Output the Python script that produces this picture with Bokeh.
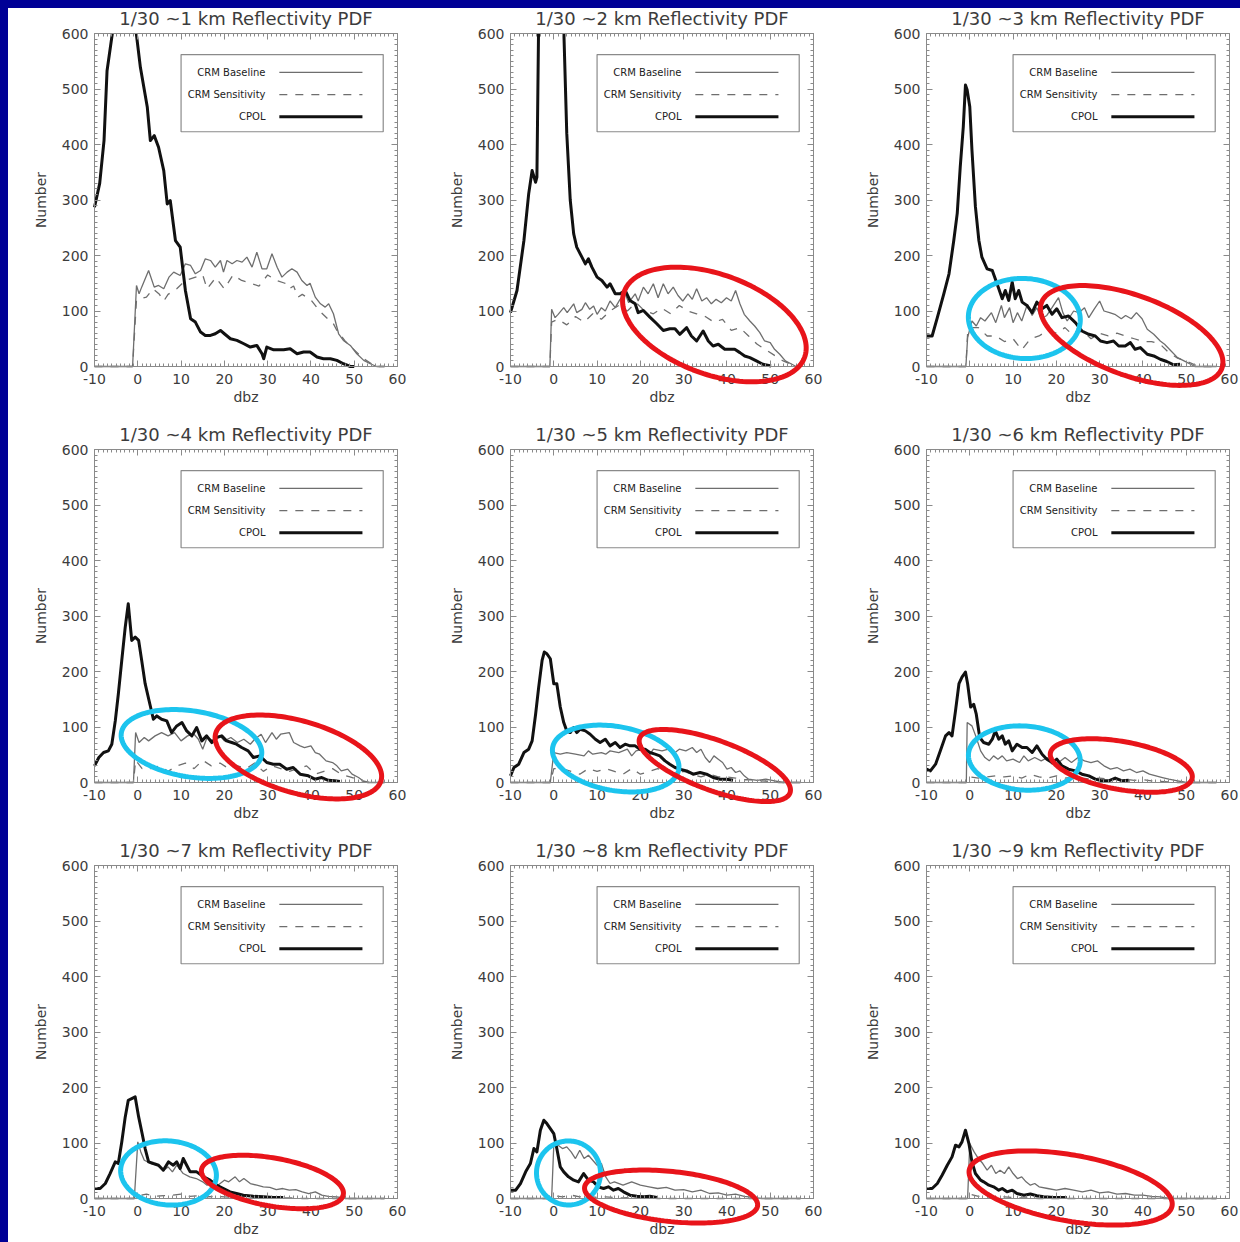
import numpy as np
from bokeh.plotting import figure
from bokeh.models import (Range1d, SingleIntervalTicker, LinearAxis, CustomJSTickFormatter,
                          Label, PolyAnnotation, Spacer, BoxAnnotation)
from bokeh.layouts import column, row
from bokeh.embed import file_html
from bokeh.resources import INLINE

# ---------------- data (dBZ, Number) ----------------
heights = ["1", "2", "3", "4", "5", "6", "7", "8", "9"]
series_names = ["CRM Baseline", "CRM Sensitivity", "CPOL"]
x_limits = (-10, 60)
y_limits = (0, 600)

km1_cpol = [(-10,287),(-8.8,330),(-7.8,407),(-7.1,533),(-5.7,610),(-4.5,700),(-3,760),(-1.5,700),(-0.5,610),(0.6,539),(2.2,467),(2.9,407),(3.8,416),(4.8,395),(6,353),(6.8,293),(7.5,299),(8.7,227),(9.8,215),(11,137),(12.2,86),(13.3,80),(14.5,62),(15.6,56),(16.8,56),(17.9,59),(19.1,65),(20,59),(21.4,50),(22.9,47),(24.5,41),(26,35),(27.5,38),(28.7,23),(29.1,14),(29.8,35),(31.4,30),(33.7,30),(35.2,32),(36.8,23),(38.3,26),(39.8,26),(41.4,17),(42.9,14),(44.5,14),(46,11),(47.5,5),(49.1,0),(50,0)]
km1_base = [(-10,0),(-1.2,0),(-0.3,146),(0.3,131),(0.9,143),(2.5,173),(3.8,143),(4.8,146),(6,140),(7.2,161),(8.3,170),(9.8,164),(11,185),(12.2,182),(13.3,167),(14.5,173),(15.6,194),(16.8,191),(17.9,179),(19.1,191),(19.8,170),(20.6,191),(21.8,185),(22.9,191),(24.1,188),(25.2,197),(26.4,179),(27.5,206),(28.7,176),(29.8,176),(31,203),(32.2,179),(33.3,161),(34.5,170),(35.6,176),(36.8,170),(37.9,155),(39.1,146),(39.8,150),(41,125),(42.2,113),(43.3,107),(44.1,113),(45.2,95),(46.4,59),(47.5,47),(49.1,38),(50.6,23),(52.2,11),(53.7,5),(55.2,0),(57,0)]
km1_sens = [(-10,0),(-1.2,0),(-0.3,120),(2,125),(3.5,140),(5,130),(6,118),(7,130),(9,140),(11,155),(13,160),(15,165),(16,140),(18,160),(20,140),(22,165),(24,155),(26,150),(28,145),(30,165),(32,155),(34,150),(35,140),(36,145),(37,125),(38,130),(40,120),(42,100),(44,85),(45,80),(46,65),(48,45),(50,30),(52,15),(54,5),(55,0),(57,0)]

km2_cpol = [(-10,97),(-8.5,137),(-6.9,227),(-5.8,311),(-5,353),(-4.2,332),(-3.9,341),(-3.5,620),(-2,800),(0,900),(1.5,750),(2.3,610),(3,420),(3.8,300),(4.6,239),(5.3,215),(6.5,197),(7.3,185),(8,194),(8.8,179),(10,161),(11.1,155),(12.3,143),(13,149),(14.2,131),(15.3,131),(16.5,137),(17.6,119),(18.8,113),(19.5,97),(20.7,101),(22.2,89),(23.8,77),(25.3,65),(26.8,68),(28,68),(29.1,58),(30.7,70),(31.8,55),(33,46),(34.5,64),(35.7,46),(36.8,37),(38,40),(39.5,31),(40.7,31),(41.8,31),(43,25),(44.1,19),(45.3,16),(46.8,10),(48.3,4),(50.2,1)]
km2_base = [(-10,0),(-0.9,0),(-0.5,103),(0.3,88),(1,94),(2.3,106),(3.1,97),(4.6,113),(5.3,97),(6.5,103),(7.3,115),(8.3,103),(9.2,109),(10,94),(11,106),(11.9,100),(13,118),(14.2,106),(15.3,121),(16.5,131),(17.3,115),(18.8,131),(19.5,118),(20.7,143),(21.8,131),(23,149),(24.1,124),(25.3,149),(26.4,131),(27.6,143),(28.7,128),(29.8,118),(31,131),(32,121),(33,140),(34.2,118),(35.3,124),(36.4,113),(37.5,121),(38.7,115),(39.9,124),(41,118),(42,137),(43,113),(44,94),(45.3,82),(46.4,73),(47.6,61),(48.7,46),(50,43),(51,31),(52.2,22),(53.5,10),(55,4),(56,0),(57,0)]
km2_sens = [(-10,0),(-0.9,0),(-0.5,80),(1,85),(3,75),(5,90),(7,80),(9,95),(11,85),(13,100),(15,110),(17,100),(19,115),(21,100),(23,95),(25,105),(27,95),(29,110),(31,100),(33,95),(35,90),(37,80),(39,85),(41,65),(43,70),(45,55),(47,40),(49,30),(51,20),(53,10),(55,3),(56,0),(57,0)]

km3_cpol = [(-10,55),(-8.7,55),(-7.5,88),(-6,131),(-4.8,167),(-3.7,227),(-2.9,276),(-2.2,360),(-1.5,432),(-1,507),(-0.6,498),(0,468),(0.5,390),(1.3,288),(2.1,227),(2.8,197),(4,176),(5.2,173),(6.3,149),(7.5,122),(8.2,137),(9,119),(9.8,152),(10.5,122),(11.3,137),(12.1,116),(13.2,110),(14.4,97),(15.5,116),(16.7,104),(17.8,110),(19,94),(20.1,104),(21.3,88),(22.8,91),(24.4,79),(25.9,64),(27.5,58),(29,55),(30.2,46),(31.7,43),(33.2,46),(34.4,37),(35.9,37),(37.1,43),(38.2,31),(39.4,34),(41,22),(42.5,19),(44,13),(45.5,9),(47.1,3),(48.6,4)]
km3_base = [(-10,0),(-0.9,0),(-0.5,52),(0.5,82),(1.5,73),(2.5,88),(3.5,82),(5,97),(6,79),(7.3,110),(8,88),(9.2,106),(10,79),(11,97),(12,82),(13.3,112),(14.4,92),(15.5,106),(16.5,86),(17.8,92),(19,106),(20.5,124),(21.5,97),(22.5,82),(24,100),(25.2,97),(26.5,106),(27.5,88),(28.7,103),(30,118),(31,100),(32.3,97),(33.5,94),(35,86),(36,92),(37.3,86),(38.5,97),(39.8,86),(41,67),(42.5,58),(44,46),(45,40),(46.5,28),(48,16),(49.5,10),(51,4),(52,0),(57,0)]
km3_sens = [(-10,0),(-0.9,0),(-0.5,60),(0,70),(2,70),(4,55),(6,55),(8,45),(10,50),(12,30),(14,50),(16,55),(18,65),(20,60),(22,70),(24,55),(26,65),(28,50),(30,60),(32,55),(34,60),(36,55),(38,50),(40,45),(42,45),(44,40),(46,25),(48,15),(50,10),(52,3),(53,0),(57,0)]

km4_cpol = [(-10,30),(-9,45),(-7.9,54),(-6.8,57),(-6,69),(-5.2,111),(-4.5,159),(-3.7,220),(-2.9,280),(-2.2,322),(-1.4,256),(-0.6,262),(0.2,256),(0.9,220),(1.7,178),(2.8,141),(3.6,114),(4.4,120),(5.5,114),(6.7,111),(7.8,90),(9,102),(10.2,108),(11.3,93),(12.5,84),(13.6,99),(14.8,75),(15.9,84),(17.1,72),(18.2,81),(19.4,84),(20.5,75),(21.7,72),(22.8,69),(24,63),(25.5,57),(26.7,45),(28.2,48),(29.8,36),(31.3,33),(32.8,33),(34.4,24),(35.9,27),(37.5,15),(39.4,12),(40.9,6),(42.5,9),(44,4),(45.5,3),(46.7,2)]
km4_base = [(-10,0),(-1,0),(-0.5,90),(0.3,72),(1.5,81),(2.5,75),(4,84),(5.5,90),(7,84),(8.5,90),(10,75),(11.5,84),(13,87),(14,78),(15,60),(16,81),(17.5,75),(19,84),(20,75),(21.5,81),(23,72),(24.5,78),(26,69),(27,78),(28.5,87),(29.5,72),(31,90),(32,78),(33,87),(35,90),(36,72),(37.5,66),(38.5,63),(40,66),(41,54),(42,51),(43.5,39),(45,36),(46,30),(47,21),(48.5,24),(49.5,15),(51,9),(52,3),(53.5,0),(57,0)]
km4_sens = [(-10,0),(-1,0),(-0.5,40),(1,25),(3,25),(5,30),(7,20),(9,30),(11,35),(13,25),(15,40),(17,30),(19,35),(21,25),(23,30),(25,25),(27,35),(29,20),(31,30),(33,25),(35,20),(37,25),(39,30),(41,15),(43,20),(45,25),(47,15),(49,10),(51,5),(53,0),(57,0)]

km5_cpol = [(-10,12),(-9.2,27),(-8.1,33),(-6.9,54),(-5.8,60),(-5,75),(-4.2,123),(-3.5,171),(-2.7,220),(-2.2,235),(-1.6,232),(-0.8,223),(0,178),(0.7,178),(1.5,136),(2.3,108),(3,93),(3.8,90),(4.6,99),(5.3,90),(6.1,96),(7.3,93),(8.4,87),(9.6,78),(10.7,72),(11.9,78),(13,66),(14.2,72),(15.3,63),(16.5,69),(17.6,66),(18.8,66),(19.9,60),(21.1,60),(22.2,54),(23.4,51),(24.5,48),(25.7,39),(26.8,33),(28,27),(29.1,24),(30.7,21),(32.2,15),(33.8,18),(35.3,15),(36.8,9),(38.4,6),(39.9,6),(41.4,4)]
km5_base = [(-10,0),(-0.8,0),(0,54),(1.5,51),(3,54),(5,51),(7,48),(8,57),(9,51),(11,54),(12,51),(13,57),(15,54),(17,60),(18,48),(19,57),(20.5,60),(22,48),(23,60),(25,57),(26.5,60),(27.5,51),(29,60),(30.5,57),(32,63),(33,54),(34,60),(35,45),(36,36),(37,48),(38,42),(39,36),(40,24),(41,27),(42,18),(43,21),(44,12),(45,6),(47,4),(49,6),(51,3),(53,0),(57,0)]
km5_sens = [(-10,0),(-0.8,0),(0,25),(2,25),(4,20),(6,15),(8,25),(10,20),(12,25),(14,20),(16,15),(18,25),(20,15),(22,20),(24,25),(26,20),(28,15),(30,20),(32,15),(34,10),(36,15),(38,10),(40,10),(42,8),(44,5),(46,5),(48,3),(50,2),(52,0),(57,0)]

km6_cpol = [(-10,24),(-9.1,21),(-7.9,33),(-6.8,57),(-5.6,84),(-4.8,90),(-4.1,84),(-3.3,129),(-2.5,178),(-1.8,190),(-1,199),(-0.5,178),(0.2,136),(0.9,141),(1.5,123),(2.3,81),(3.2,72),(4.4,69),(5.2,78),(5.9,93),(6.7,78),(7.5,84),(8.2,69),(9,75),(9.8,57),(10.9,69),(12.1,63),(13.2,63),(14.4,54),(15.5,66),(16.7,51),(17.8,42),(19,36),(20.1,42),(21.3,30),(22.8,24),(24.4,21),(25.9,15),(27.5,12),(29,6),(30.5,3),(32.1,3),(33.6,8),(35.2,3),(36.7,4)]
km6_base = [(-10,0),(-0.8,0),(-0.6,108),(0.5,102),(1.5,81),(2.5,57),(3.5,45),(4.5,39),(5.5,48),(6.5,42),(7.5,48),(8.5,39),(10,42),(11.5,36),(12.5,48),(13.5,39),(15,45),(16.5,39),(18,45),(19,33),(20.5,36),(22,45),(23.5,36),(25,45),(26.5,39),(28,36),(29.5,39),(31,30),(32.5,24),(34,27),(35.5,21),(37,24),(38.5,18),(40,21),(41.5,15),(43,12),(44.5,9),(46,6),(48,3),(50,0),(57,0)]
km6_sens = [(-10,0),(-0.8,0),(0,10),(2,8),(4,10),(6,12),(8,10),(10,12),(12,8),(14,15),(16,10),(18,8),(20,12),(22,8),(24,10),(26,8),(28,6),(30,8),(32,6),(34,5),(36,6),(38,4),(40,5),(42,3),(44,2),(46,1),(48,0),(57,0)]

km7_cpol = [(-10,18),(-8.7,18),(-7.5,27),(-6.4,45),(-5.2,66),(-4.5,63),(-3.7,102),(-2.9,147),(-2.2,177),(-1.4,180),(-0.6,183),(0.2,147),(1,117),(1.7,90),(2.5,66),(3.6,63),(4.8,60),(5.9,51),(7.1,66),(8.2,60),(9,66),(9.8,54),(10.5,72),(11.3,60),(12.1,48),(13.6,48),(15.2,39),(16.7,33),(18.2,24),(19.8,18),(21.3,12),(22.8,9),(24.4,6),(26.7,4),(29,3),(31.3,2),(33.6,2)]
km7_base = [(-10,0),(-0.8,0),(0,102),(0.7,84),(1.5,69),(3,63),(4.5,60),(6,51),(7,57),(8,48),(9,60),(10.5,45),(12,39),(13.5,36),(15,30),(16,24),(17,30),(18.5,24),(20,33),(21,30),(22.5,39),(23.5,30),(24.5,36),(26,27),(27.5,24),(29,21),(30.5,20),(32,16),(33.5,18),(35,15),(36.5,16),(38,12),(39.5,9),(41,12),(42.5,6),(44,4),(46,3),(48,0),(57,0)]
km7_sens = [(-10,0),(-0.8,0),(0,5),(2,8),(4,4),(6,5),(8,6),(10,8),(12,4),(14,5),(16,3),(18,4),(20,3),(22,2),(24,3),(26,2),(28,2),(30,1),(32,2),(34,1),(36,1),(38,0),(57,0)]

km8_cpol = [(-10,15),(-8.8,15),(-7.7,27),(-6.5,48),(-5.4,63),(-4.6,90),(-3.9,84),(-3.1,123),(-2.3,141),(-1.6,135),(-0.8,126),(0,117),(0.7,90),(1.5,57),(2.3,48),(3.4,39),(4.6,33),(5.7,30),(6.9,45),(8,33),(9.2,30),(10.3,21),(11.5,18),(12.6,21),(13.8,15),(14.9,18),(16.1,12),(17.6,6),(19.2,4),(20.7,3),(22.2,4),(23.8,2)]
km8_base = [(-10,0),(-0.5,0),(0,96),(1,96),(2,90),(3,93),(4,84),(5,72),(6,87),(7,72),(8,78),(9,69),(10,60),(11,63),(12,39),(13,27),(14,30),(16,24),(18,30),(20,24),(22,21),(24,18),(26,20),(28,15),(30,16),(32,12),(34,15),(36,9),(38,10),(40,6),(42,8),(44,4),(46,2),(48,0),(57,0)]
km8_sens = [(-10,0),(-0.5,0),(0,5),(2,3),(4,6),(6,3),(8,4),(10,2),(12,3),(14,2),(16,1),(18,2),(20,1),(22,1),(24,0),(57,0)]

km9_cpol = [(-10,18),(-8.7,18),(-7.5,27),(-6.4,42),(-5.2,60),(-4.1,75),(-3.3,96),(-2.5,93),(-1.8,102),(-1,123),(-0.2,99),(0.5,66),(1.3,45),(2.5,33),(3.2,30),(4.4,24),(5.5,21),(6.7,15),(7.5,18),(8.6,12),(9.8,15),(10.9,9),(12.5,6),(14,8),(15.5,5),(17.1,3),(19.4,2),(22.4,2)]
km9_base = [(-10,0),(-0.5,0),(0,99),(1,84),(2,72),(3,63),(4,51),(5,60),(6,45),(7,51),(8,45),(9,57),(10,45),(11,36),(12,39),(13,30),(14,24),(15,27),(16,21),(18,18),(20,15),(22,18),(24,15),(26,12),(28,15),(30,10),(32,12),(34,8),(36,9),(38,6),(40,6),(42,4),(44,3),(46,0),(57,0)]
km9_sens = [(-10,0),(-0.5,0),(0,8),(2,4),(4,3),(6,2),(8,3),(10,2),(12,1),(14,1),(16,0),(57,0)]

# highlight ellipses: (panel, colour, centre dBZ, centre Number, semi-major px, semi-minor px, tilt deg)
highlights = [
    (2, "red", 37.1, 75.7, 96, 50, 20),
    (3, "cyan", 12.6, 86.5, 56, 40, 3), (3, "red", 37.4, 55.9, 96, 40, 20),
    (4, "cyan", 12.4, 69.4, 71, 33, 9), (4, "red", 37.1, 46.0, 86, 36, 16),
    (5, "cyan", 14.3, 43.2, 64, 32, 10), (5, "red", 37.2, 30.6, 80, 25, 20),
    (6, "cyan", 12.6, 44.1, 56, 32, 4), (6, "red", 35.0, 30.6, 72, 24, 10),
    (7, "cyan", 7.1, 46.0, 48, 32, 5), (7, "red", 31.1, 29.7, 72, 24, 10),
    (8, "cyan", 3.4, 46.0, 32, 32, 0), (8, "red", 27.1, 3.6, 87, 25, 6),
    (9, "red", 23.3, 18.9, 103, 33, 10),
]

panels = [
    (km1_cpol, km1_base, km1_sens), (km2_cpol, km2_base, km2_sens), (km3_cpol, km3_base, km3_sens),
    (km4_cpol, km4_base, km4_sens), (km5_cpol, km5_base, km5_sens), (km6_cpol, km6_base, km6_sens),
    (km7_cpol, km7_base, km7_sens), (km8_cpol, km8_base, km8_sens), (km9_cpol, km9_base, km9_sens),
]

# ---------------- styling / geometry ----------------
FONT = "DejaVu Sans"
TXT = "#3c3c3c"
FRAME = "#8a8a8a"
NAVY = "#000096"
ELL_COL = {"red": "#e8141a", "cyan": "#1cc4ee"}
FW, FH = 303, 333          # plotting box size in px
LB, TB = 86, 25            # box offset inside each panel
PX_X = FW / float(x_limits[1] - x_limits[0])
PX_Y = FH / float(y_limits[1] - y_limits[0])


def xy(pairs):
    return [p[0] for p in pairs], [p[1] for p in pairs]


def clip_top(xs, ys, top):
    """Cut the polyline where it leaves the plotting box through its top edge."""
    ox, oy = [], []
    for i in range(len(xs)):
        if i > 0:
            x0, y0, x1, y1 = xs[i - 1], ys[i - 1], xs[i], ys[i]
            if (y0 > top) != (y1 > top):
                xc = x0 + (top - y0) * (x1 - x0) / (y1 - y0)
                ox.append(xc)
                oy.append(top)
                if y1 > top:
                    ox.append(np.nan)
                    oy.append(np.nan)
        if ys[i] <= top:
            ox.append(xs[i])
            oy.append(ys[i])
    return ox, oy


def style_axis(ax, show_labels):
    ax.axis_line_color = FRAME
    ax.axis_line_width = 1
    ax.major_tick_line_color = FRAME
    ax.minor_tick_line_color = FRAME
    ax.major_tick_in = 6
    ax.major_tick_out = 0
    ax.minor_tick_in = 3
    ax.minor_tick_out = 0
    ax.major_label_text_font = FONT
    ax.major_label_text_color = TXT
    ax.axis_label_text_font = FONT
    ax.axis_label_text_font_size = "14px"
    ax.axis_label_text_font_style = "normal"
    ax.axis_label_text_color = TXT
    if show_labels:
        ax.formatter = CustomJSTickFormatter(code="return tick.toFixed(0)")
        ax.major_label_text_font_size = "14px"
    else:
        ax.formatter = CustomJSTickFormatter(code="return ''")
        ax.major_label_text_font_size = "0px"
        ax.major_label_standoff = 0


def make_panel(idx, col, rw):
    cpol, base, sens = panels[idx]
    width = 416 if col < 2 else 400
    height = 416 if rw < 2 else 402
    rb = width - LB - FW
    bb = height - TB - FH
    x0, x1 = x_limits
    y0, y1 = y_limits
    p = figure(width=width, height=height,
               x_range=Range1d(x0 - LB / PX_X, x1 + rb / PX_X),
               y_range=Range1d(y0 - bb / PX_Y, y1 + TB / PX_Y),
               min_border=0, x_axis_location=None, y_axis_location=None,
               output_backend="svg", toolbar_location=None)
    p.background_fill_color = "white"
    p.border_fill_color = "white"
    p.outline_line_color = None
    p.grid.visible = False

    def xticker():
        return SingleIntervalTicker(interval=10, num_minor_ticks=10)

    def yticker():
        return SingleIntervalTicker(interval=100, num_minor_ticks=10)

    bottom = LinearAxis(fixed_location=y0, bounds=x_limits, ticker=xticker(), axis_label="dbz")
    style_axis(bottom, True)
    bottom.major_label_standoff = 7
    bottom.axis_label_standoff = 2
    p.add_layout(bottom, "below")

    left = LinearAxis(fixed_location=x0, bounds=y_limits, ticker=yticker(), axis_label="Number")
    style_axis(left, True)
    left.major_label_standoff = 6
    left.axis_label_standoff = 10
    p.add_layout(left, "left")

    top = LinearAxis(fixed_location=y1, bounds=x_limits, ticker=xticker())
    style_axis(top, False)
    p.add_layout(top, "above")

    right = LinearAxis(fixed_location=x1, bounds=y_limits, ticker=yticker())
    style_axis(right, False)
    p.add_layout(right, "right")

    p.add_layout(Label(x=(x0 + x1) / 2, y=y1 + 15 / PX_Y,
                       text="1/30 ~%s km Reflectivity PDF" % heights[idx],
                       text_align="center", text_baseline="middle",
                       text_font=FONT, text_font_size="18px", text_color=TXT))

    bx, by = xy(base)
    sx, sy = xy(sens)
    cx, cy = clip_top(*xy(cpol), y1)
    p.line(bx, by, line_color="#6e6e6e", line_width=1.3)
    p.line(sx, sy, line_color="#6e6e6e", line_width=1.3, line_dash="8 8")
    p.line(cx, cy, line_color="#111111", line_width=3, line_join="round")

    # legend box (labels left, keys right)
    p.add_layout(BoxAnnotation(left=10, right=56.7, bottom=423, top=562,
                               fill_color=None, fill_alpha=0,
                               line_color=FRAME, line_alpha=1, line_width=1.2))
    rows_y = [530, 490, 450]
    styles = [dict(line_color="#6e6e6e", line_width=1.3),
              dict(line_color="#6e6e6e", line_width=1.3, line_dash="8 8"),
              dict(line_color="#111111", line_width=3)]
    for name, yy, st in zip(series_names, rows_y, styles):
        p.add_layout(Label(x=29.5, y=yy, text=name, text_align="right",
                           text_baseline="middle", text_font=FONT,
                           text_font_size="10px", text_color="#222222"))
        p.line([32.7, 51.9], [yy, yy], **st)

    for (pn, colr, ex, ey, a, b, ang) in highlights:
        if pn != idx + 1:
            continue
        t = np.linspace(0, 2 * np.pi, 160)
        th = np.radians(ang)
        dx = a * np.cos(t) * np.cos(th) - b * np.sin(t) * np.sin(th)
        dy = a * np.cos(t) * np.sin(th) + b * np.sin(t) * np.cos(th)
        xs = list(ex + dx / PX_X)
        ys = list(ey - dy / PX_Y)
        p.add_layout(PolyAnnotation(xs=xs, ys=ys, fill_color=None, fill_alpha=0,
                                    line_color=ELL_COL[colr], line_alpha=1, line_width=5,
                                    level="overlay"))
    return p


rows_ = []
for rw in range(3):
    figs = [make_panel(rw * 3 + c, c, rw) for c in range(3)]
    rows_.append(row(*figs, spacing=0))

grid = column(*rows_, spacing=0)
top_bar = Spacer(width=1240, height=8, styles={"background-color": NAVY})
left_bar = Spacer(width=8, height=1234, styles={"background-color": NAVY})
layout = column(top_bar, row(left_bar, grid, spacing=0), spacing=0)

open("out.html", "w").write(file_html(layout, INLINE))
